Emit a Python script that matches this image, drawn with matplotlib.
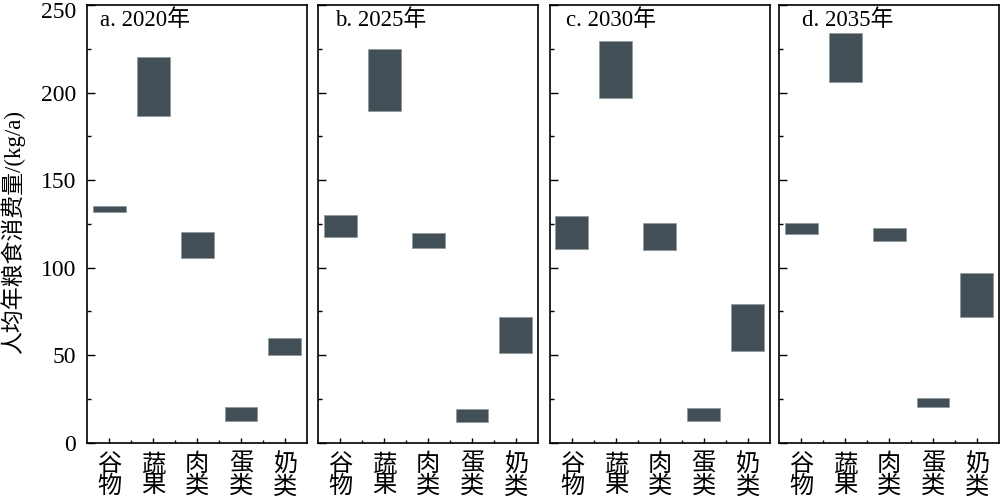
import matplotlib
matplotlib.use("Agg")
import matplotlib.pyplot as plt
from matplotlib.ticker import MultipleLocator, FixedLocator, FuncFormatter

plt.rcParams['font.family'] = ['Liberation Serif', 'Noto Sans CJK SC', 'DejaVu Sans']

categories = ['谷物', '蔬果', '肉类', '蛋类', '奶类']
panel_titles = ['a. 2020年', 'b. 2025年', 'c. 2030年', 'd. 2035年']

low_2020 = [131.5, 186.7, 105.3, 12.4, 49.9]
high_2020 = [135.4, 220.2, 120.2, 20.2, 59.8]
low_2025 = [117.3, 189.7, 111.0, 11.6, 51.0]
high_2025 = [130.3, 224.8, 119.6, 19.4, 71.6]
low_2030 = [110.5, 197.1, 110.1, 12.2, 52.2]
high_2030 = [129.5, 229.7, 125.7, 20.0, 79.4]
low_2035 = [119.0, 206.1, 115.4, 20.6, 71.8]
high_2035 = [125.3, 233.9, 122.9, 25.7, 96.8]

lows = [low_2020, low_2025, low_2030, low_2035]
highs = [high_2020, high_2025, high_2030, high_2035]

y_max = 250
ylabel = '人均年粮食消费量/(kg/a)'
bar_color = '#434f56'

fig = plt.figure(figsize=(10, 5.01), dpi=100)
W, H = 1000, 501
lefts = [87.3, 318.3, 550.0, 779.3]
width_px = 219.6
top_px, bottom_px = 5.0, 442.7
title_x = [0.058, 0.076, 0.073, 0.102]

for i in range(4):
    ax = fig.add_axes([lefts[i] / W, 1 - bottom_px / H, width_px / W, (bottom_px - top_px) / H])
    x = list(range(len(categories)))
    heights = [h - l for h, l in zip(highs[i], lows[i])]
    ax.bar(x, heights, bottom=lows[i], width=0.75, color=bar_color,
           edgecolor='#8a9296', linewidth=0.4, zorder=3)
    ax.set_xlim(-0.5, 4.5)
    ax.set_ylim(0, y_max)
    ax.xaxis.set_major_locator(FixedLocator(x))
    ax.xaxis.set_minor_locator(FixedLocator([0.5, 1.5, 2.5, 3.5]))
    ax.set_xticklabels(['\n'.join(c) for c in categories], fontsize=17.5,
                       linespacing=0.98)
    ax.yaxis.set_major_locator(MultipleLocator(50))
    ax.yaxis.set_minor_locator(MultipleLocator(25))
    ax.tick_params(which='both', direction='in', width=1.0, top=False, right=False)
    ax.tick_params(axis='y', which='major', length=5.5, pad=8, labelsize=17)
    ax.tick_params(axis='y', which='minor', length=3)
    ax.tick_params(axis='x', which='major', length=3.5, pad=8)
    ax.tick_params(axis='x', which='minor', length=2)
    if i > 0:
        ax.tick_params(axis='y', labelleft=False)
    else:
        ax.yaxis.set_major_formatter(
            FuncFormatter(lambda v, p: '' if v >= y_max else f'{v:g}'))
        ax.annotate(f'{y_max:g}', xy=(0, y_max), xycoords=('axes fraction', 'data'),
                    xytext=(-8, -3.5), textcoords='offset points',
                    ha='right', va='center_baseline', fontsize=17,
                    annotation_clip=False)
        ax.set_ylabel(ylabel, fontsize=16.5)
        ax.yaxis.set_label_coords(-0.285, 0.481)
    for s in ax.spines.values():
        s.set_linewidth(1.2)
    ax.text(title_x[i], 0.966, panel_titles[i], transform=ax.transAxes,
            ha='left', va='center', fontsize=16.5)

fig.savefig('out.png', dpi=100)
